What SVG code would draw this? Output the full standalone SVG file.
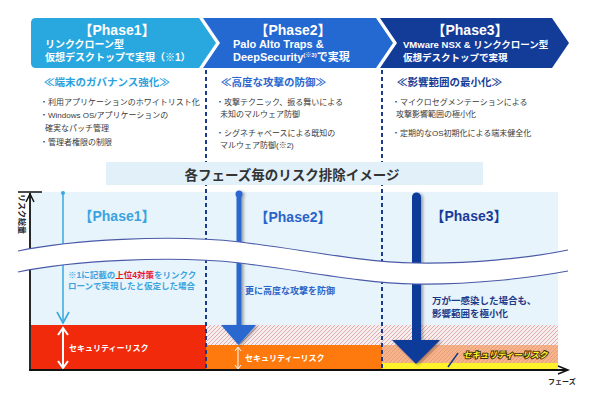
<svg xmlns="http://www.w3.org/2000/svg" width="600" height="400" viewBox="0 0 600 400">
<style>
text{font-family:"Liberation Sans","Noto Sans CJK JP",sans-serif;font-weight:bold}
.bt{fill:#fff}
.bh{font-size:14px;text-anchor:middle}
.b1{font-size:10px}
.b2{font-size:11px}
.b3{font-size:9.5px}
.sh{font-size:10.5px}
.li{font-size:8px;fill:#3a3a3a;font-weight:normal}
.dash{stroke:#1a3a8a;stroke-width:2;stroke-dasharray:4 3;fill:none}
.ph{font-size:14px;text-anchor:middle}
.risk{font-size:8px;fill:#fff}
</style>
<defs>
<pattern id="hatch" patternUnits="userSpaceOnUse" width="4" height="4">
<rect width="4" height="4" fill="#f6eeee"/>
<path d="M-1,1 L1,-1 M0,4 L4,0 M3,5 L5,3" stroke="#dca4a4" stroke-width="0.9"/>
</pattern>
<pattern id="hatch2" patternUnits="userSpaceOnUse" width="4" height="4">
<rect width="4" height="4" fill="#f6b48a"/>
<path d="M-1,1 L1,-1 M0,4 L4,0 M3,5 L5,3" stroke="#ea9a78" stroke-width="0.9"/>
</pattern>
<filter id="shadow" x="-50%" y="-10%" width="200%" height="130%">
<feDropShadow dx="2" dy="1" stdDeviation="1.5" flood-color="#000" flood-opacity="0.35"/>
</filter>
</defs>

<!-- Banners -->
<g id="banner-phase1">
<path d="M36,18 H199 L216,43 L199,68 H36 Q31,68 31,63 V23 Q31,18 36,18 Z" fill="#29a8e0"/>
<text class="bt bh" x="117" y="35">【Phase1】</text>
<text class="bt b1" x="45" y="48">リンククローン型</text>
<text class="bt b1" x="45" y="61">仮想デスクトップで実現（※1）</text>
</g>
<g id="banner-phase2">
<path d="M203,18 H376 L393,43 L376,68 H203 L220,43 Z" fill="#2468d2"/>
<text class="bt bh" x="293" y="35">【Phase2】</text>
<text class="bt b2" x="233" y="48">Palo Alto Traps &amp;</text>
<text class="bt b2" x="233" y="61">DeepSecurity<tspan font-size="6" dy="-4">(※3)</tspan><tspan dy="4">で実現</tspan></text>
</g>
<g id="banner-phase3">
<path d="M380,18 H552 L569,43 L552,68 H380 L397,43 Z" fill="#133c98"/>
<text class="bt bh" x="470" y="35">【Phase3】</text>
<text class="bt b3" x="403" y="48">VMware NSX &amp; リンククローン型</text>
<text class="bt b3" x="403" y="61">仮想デスクトップで実現</text>
</g>

<!-- Phase descriptions -->
<g id="desc-phase1">
<text class="sh" x="44" y="86" fill="#2aa2de">≪端末のガバナンス強化≫</text>
<text class="li" x="40" y="105">・利用アプリケーションのホワイトリスト化</text>
<text class="li" x="40" y="118">・Windows OS/アプリケーションの</text>
<text class="li" x="45" y="131">確実なパッチ管理</text>
<text class="li" x="40" y="145">・管理者権限の制限</text>
</g>
<g id="desc-phase2">
<text class="sh" x="221" y="86" fill="#2a68d0">≪高度な攻撃の防御≫</text>
<text class="li" x="216" y="105">・攻撃テクニック、振る舞いによる</text>
<text class="li" x="220" y="117">未知のマルウェア防御</text>
<text class="li" x="216" y="136">・シグネチャベースによる既知の</text>
<text class="li" x="220" y="148">マルウェア防御(※2)</text>
</g>
<g id="desc-phase3">
<text class="sh" x="397" y="86" fill="#153c96">≪影響範囲の最小化≫</text>
<text class="li" x="392" y="105">・マイクロセグメンテーションによる</text>
<text class="li" x="396" y="117">攻撃影響範囲の極小化</text>
<text class="li" x="392" y="136">・定期的なOS初期化による端末健全化</text>
</g>

<!-- Chart background and risk boxes -->
<g id="chart-bg">
<rect x="30" y="192" width="528" height="178" fill="#e8f4fb"/>
<rect x="31" y="325" width="175" height="45" fill="#f22a0c"/>
<rect x="206" y="325" width="176" height="20" fill="url(#hatch)"/>
<rect x="206" y="345" width="176" height="25" fill="#ff7a0e"/>
<rect x="382" y="325" width="176" height="20" fill="url(#hatch)"/>
<rect x="382" y="345" width="176" height="18" fill="url(#hatch2)"/>
<rect x="382" y="363" width="176" height="7" fill="#fff12a"/>
</g>

<!-- Connectors -->
<g id="connectors">
<line class="dash" x1="206" y1="70" x2="206" y2="370"/>
<line class="dash" x1="382" y1="70" x2="382" y2="370"/>
<!-- phase1 arrow -->
<circle cx="63" cy="193" r="2" fill="#3aa8e0"/>
<line x1="63" y1="193" x2="63" y2="322" stroke="#3aa8e0" stroke-width="1.5"/>
<path d="M57,312 L63,323 L69,312" fill="none" stroke="#3aa8e0" stroke-width="1.6"/>
<!-- phase2 arrow -->
<g filter="url(#shadow)">
<circle cx="239" cy="194" r="3.5" fill="#2a68d0"/>
<rect x="236.5" y="194" width="5" height="132" fill="#2a68d0"/>
<path d="M221,325 H256 L238.5,345 Z" fill="#2a68d0"/>
</g>
<!-- phase3 arrow -->
<g filter="url(#shadow)">
<path d="M412,197 A4.5,4.5 0 0 1 421,197 V341 H412 Z" fill="#0e3a9a"/>
<path d="M392,340 H440 L416,364 Z" fill="#0e3a9a"/>
</g>
<!-- double arrows -->
<line x1="63" y1="329" x2="63" y2="367" stroke="#fff" stroke-width="2"/>
<path d="M58,335 L63,328 L68,335 M58,361 L63,368 L68,361" fill="none" stroke="#fff" stroke-width="2"/>
<line x1="238" y1="348" x2="238" y2="368" stroke="#fff" stroke-width="1"/>
<path d="M235,351 L238,347 L241,351 M235,365 L238,369 L241,365" fill="none" stroke="#fff" stroke-width="1"/>
<line x1="448" y1="367" x2="458" y2="353" stroke="#1a3a8a" stroke-width="1.5"/>
</g>

<!-- Axes -->
<g id="axes">
<line x1="30" y1="193" x2="30" y2="371" stroke="#111" stroke-width="1.8"/>
<line x1="18" y1="192" x2="42" y2="192" stroke="#111" stroke-width="1.5"/>
<path d="M26,202 L30,194 L34,202" fill="none" stroke="#111" stroke-width="1.5"/>
<line x1="29" y1="370" x2="567" y2="370" stroke="#111" stroke-width="1.8"/>
<path d="M558,366 L568,370 L558,374" fill="none" stroke="#111" stroke-width="1.5"/>
<text x="19" y="194" font-size="8" fill="#222" transform="rotate(90 19 194)">リスク総量</text>
<text x="548" y="384" font-size="7" fill="#222">フェーズ</text>
</g>

<!-- Break band -->
<g id="break-band">
<path d="M18,251 C70,240 170,234 240,242 C300,249 360,262 415,263 C470,264 530,258 568,250 L568,271 C530,278 470,285 415,284 C360,283 300,270 240,263 C170,255 70,261 18,272 Z" fill="#fff"/>
<path d="M18,251 C70,240 170,234 240,242 C300,249 360,262 415,263 C470,264 530,258 568,250" fill="none" stroke="#4a5aa8" stroke-width="1.2"/>
<path d="M18,272 C70,261 170,255 240,263 C300,270 360,283 415,284 C470,285 530,278 568,271" fill="none" stroke="#4a5aa8" stroke-width="1.2"/>
</g>

<!-- Title band -->
<g id="title">
<rect x="106" y="162" width="377" height="23" fill="#e2f0fa"/>
<text x="292" y="180" font-size="13.5" fill="#333" text-anchor="middle">各フェーズ毎のリスク排除イメージ</text>
</g>

<!-- Chart phase labels -->
<g id="chart-phase1">
<text class="ph" x="117" y="221" fill="#3aa3e0">【Phase1】</text>
<text x="68" y="278" font-size="8.5" fill="#3aa3e0">※1に記載の<tspan fill="#e8141e">上位4対策</tspan>をリンクク</text>
<text x="68" y="289" font-size="8.5" fill="#3aa3e0">ローンで実現したと仮定した場合</text>
<text class="risk" x="69" y="351">セキュリティーリスク</text>
</g>
<g id="chart-phase2">
<text class="ph" x="293" y="222" fill="#2a64c8">【Phase2】</text>
<text x="245" y="294" font-size="9" fill="#2a64c8">更に高度な攻撃を防御</text>
<text class="risk" x="245" y="361">セキュリティーリスク</text>
</g>
<g id="chart-phase3">
<text class="ph" x="469" y="221" fill="#1a3a9a">【Phase3】</text>
<text x="432" y="304" font-size="9.5" fill="#1a3a8a">万が一感染した場合も、</text>
<text x="432" y="317" font-size="9.5" fill="#1a3a8a">影響範囲を極小化</text>
<text x="463" y="358" font-size="8.5" font-style="italic" fill="#fff030" stroke="#3a2a00" stroke-width="1.8" paint-order="stroke">セキュリティーリスク</text>
</g>
</svg>
